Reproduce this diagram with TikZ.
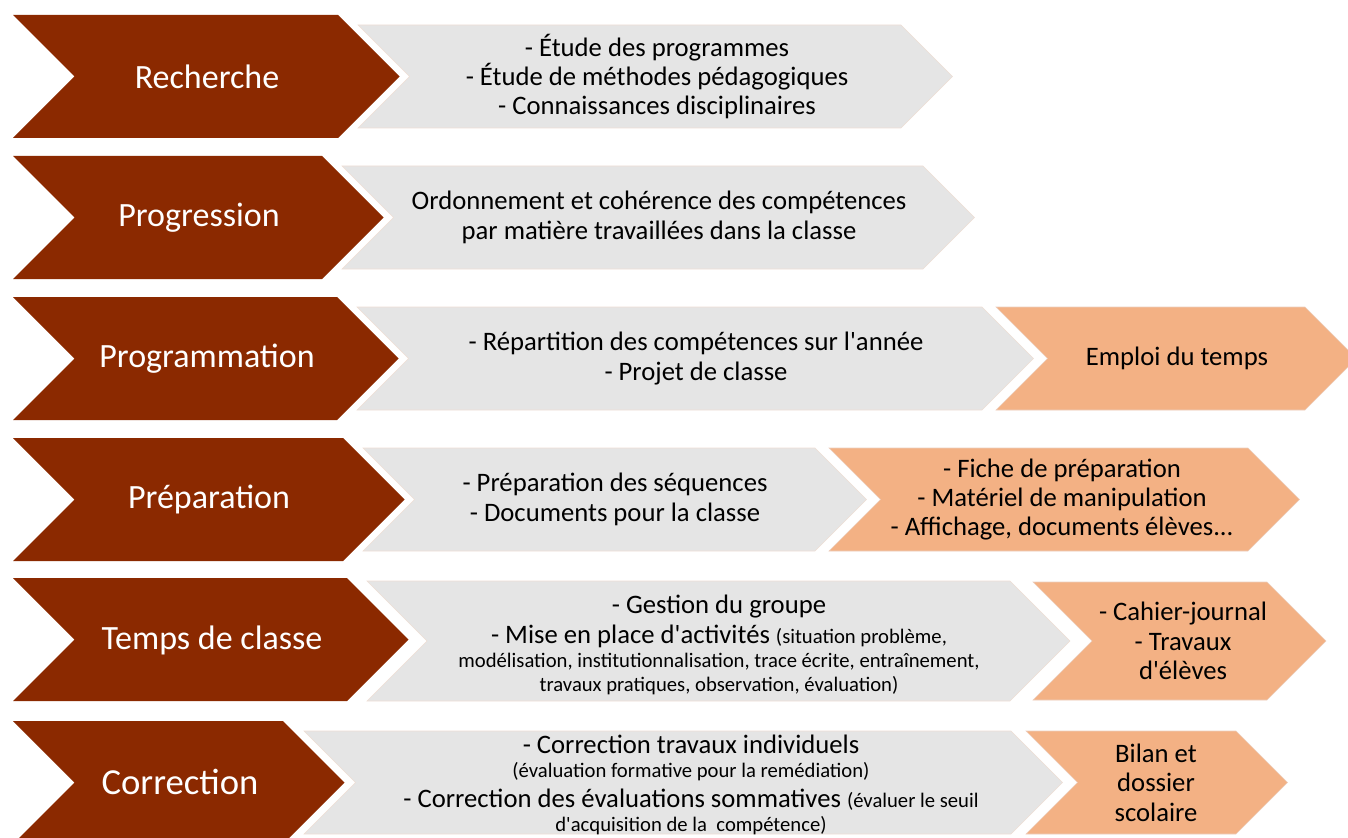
\documentclass[tikz,border=0pt]{standalone}
\usepackage{fontspec}
\setmainfont{Carlito}

\definecolor{stepred}{RGB}{139,41,0}
\definecolor{greyfill}{RGB}{229,229,229}
\definecolor{greyline}{RGB}{238,222,212}
\definecolor{orangefill}{RGB}{243,177,132}
\definecolor{orangeline}{RGB}{236,206,190}

\newcommand\apos{\textquotesingle}
\newcommand\smallfont{\fontsize{15.5}{18}\selectfont}

\begin{document}
\begin{tikzpicture}[x=0.75pt,y=-0.75pt,
  redarrow/.style={fill=stepred},
  greyarrow/.style={fill=greyfill,draw=greyline,line width=0.4pt},
  orangearrow/.style={fill=orangefill,draw=orangeline,line width=0.4pt},
  steplabel/.style={text=white,font=\fontsize{25.5}{30}\selectfont},
  boxtext/.style={align=center,font=\fontsize{20}{22}\selectfont}]

  \useasboundingbox (0,0) rectangle (1348,838);

  % left chevrons
  \foreach \t/\r in {15/338,156/322,297/337,438/343,578/347,721/283}
    \fill[redarrow] (13,\t) -- (\r,\t) -- ++(61.5,61.5) -- ++(-61.5,61.5)
      -- (13,\t+123) -- ++(61.5,-61.5) -- cycle;

  % grey arrows
  \foreach \l/\t/\h/\r in {358/25/103/901,342/166/103/923,357/307/103/982,
                           363/448/103/815,367/581/120/1010,304/731/103/1011}
    \draw[greyarrow] (\l,\t) -- (\r,\t) -- ++(\h/2,\h/2) -- ++(-\h/2,\h/2)
      -- (\l,\t+\h) -- ++(\h/2,-\h/2) -- cycle;

  % orange arrows
  \foreach \l/\t/\h/\r in {996/307/103/1305,829/448/103/1248,
                           1033/582/118/1267,1026/731/103/1236}
    \draw[orangearrow] (\l,\t) -- (\r,\t) -- ++(\h/2,\h/2) -- ++(-\h/2,\h/2)
      -- (\l,\t+\h) -- ++(\h/2,-\h/2) -- cycle;

  % step names
  \node[steplabel] (recherche) at (207,76.5) {Recherche};
  \node[steplabel] (progression) at (199,217.5) {Progression};
  \node[steplabel] (programmation) at (207,358.5) {Programmation};
  \node[steplabel] (preparation) at (209,499.5) {Préparation};
  \node[steplabel] (tempsclasse) at (212,640) {Temps de classe};
  \node[steplabel,font=\fontsize{27.5}{30}\selectfont] (correction) at (180,782) {Correction};

  % grey texts
  \node[boxtext] (rechtxt) at (657,76.5)
    {- Étude des programmes\\- Étude de méthodes pédagogiques\\- Connaissances disciplinaires};
  \node[boxtext] (progtxt) at (659,217.5)
    {Ordonnement et cohérence des compétences\\par matière travaillées dans la classe};
  \node[boxtext] (programtxt) at (696,358.5)
    {- Répartition des compétences sur l\apos année\\- Projet de classe};
  \node[boxtext] (preptxt) at (615,499.5)
    {- Préparation des séquences\\- Documents pour la classe};
  \node[boxtext] (tempstxt) at (719,645)
    {- Gestion du groupe\\- Mise en place d\apos activités {\smallfont(situation problème,}\\[-4pt]
     {\smallfont modélisation, institutionnalisation, trace écrite, entraînement,}\\[-4pt]
     {\smallfont travaux pratiques, observation, évaluation)}};
  \node[boxtext] (corrtxt) at (691,785)
    {- Correction travaux individuels\\[-4pt]
     {\smallfont (évaluation formative pour la remédiation)}\\
     - Correction des évaluations sommatives {\smallfont(évaluer le seuil}\\[-4pt]
     {\smallfont d\apos acquisition de la~ compétence)}};

  % orange texts
  \node[boxtext] (emploi) at (1177,358.5) {Emploi du temps};
  \node[boxtext] (fiche) at (1062,499.5)
    {- Fiche de préparation\\- Matériel de manipulation\\- Affichage, documents élèves...};
  \node[boxtext] (cahier) at (1183,641) {- Cahier-journal\\- Travaux\\d\apos élèves};
  \node[boxtext] (bilan) at (1156,782.5) {Bilan et\\dossier\\scolaire};
\end{tikzpicture}
\end{document}
